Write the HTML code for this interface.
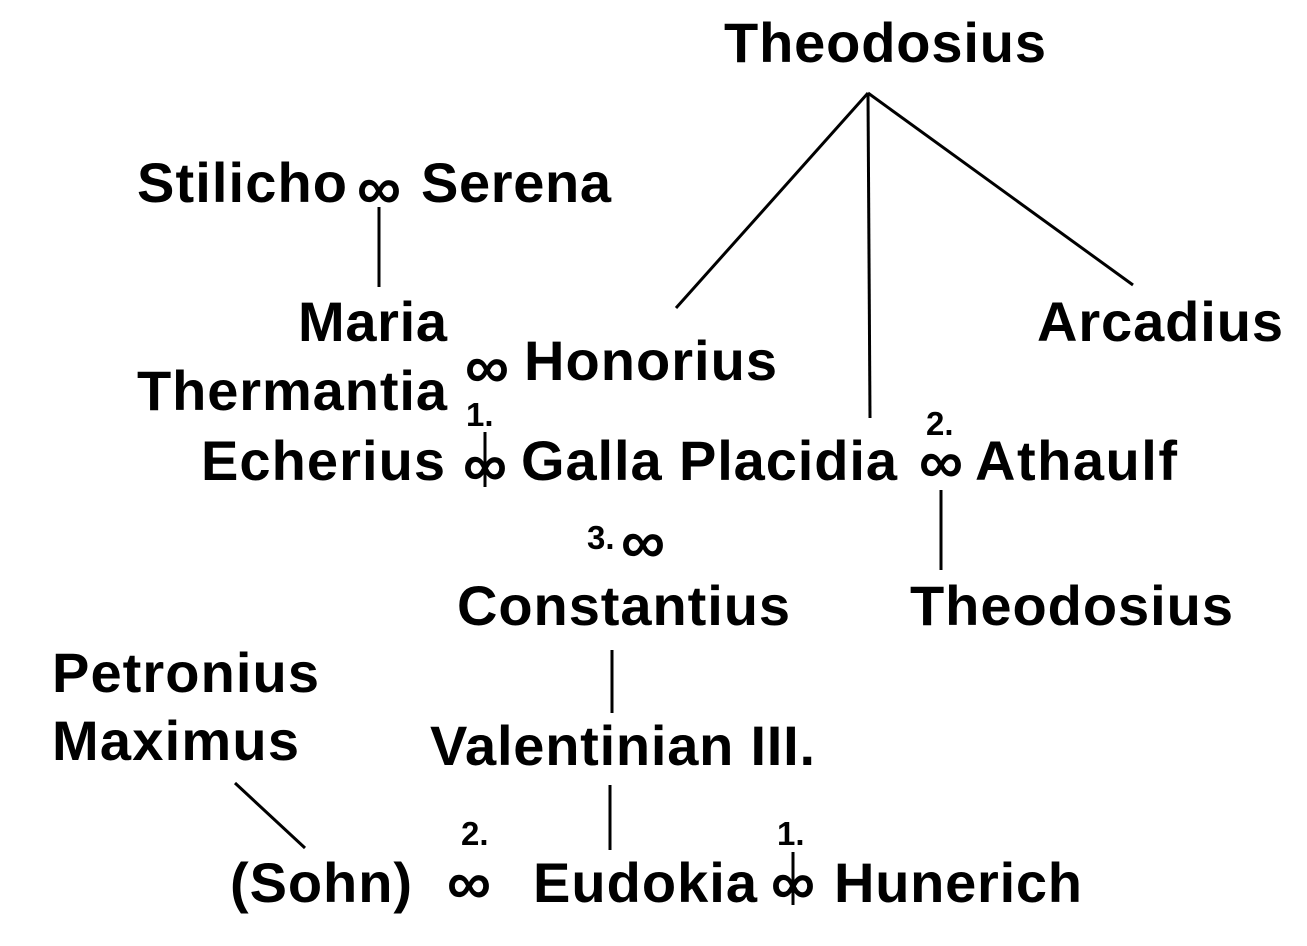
<!DOCTYPE html>
<html><head><meta charset="utf-8"><style>
html,body{margin:0;padding:0;background:#fff;}
svg{display:block;}
text{font-family:"Liberation Sans",Arial,sans-serif;font-weight:bold;fill:#000;}
.b{font-size:56px;}
.s{font-size:33px;}
.i{font-size:62px;}
</style></head><body>
<svg width="1307" height="946" viewBox="0 0 1307 946" xmlns="http://www.w3.org/2000/svg">
<g stroke="#000" stroke-width="3" fill="none">
<line x1="868" y1="93" x2="676" y2="308"/>
<line x1="868" y1="93" x2="870" y2="418"/>
<line x1="868" y1="93" x2="1133" y2="285"/>
<line x1="379" y1="207" x2="379" y2="287"/>
<line x1="941" y1="490" x2="941" y2="570"/>
<line x1="612" y1="650" x2="612" y2="713"/>
<line x1="610" y1="785" x2="610" y2="850"/>
<line x1="235" y1="783" x2="305" y2="848"/>
<line x1="485" y1="432" x2="485" y2="487"/>
<line x1="793" y1="852" x2="793" y2="905"/>
</g>
<text class="b" x="724" y="62" textLength="322">Theodosius</text>
<text class="b" x="137" y="202" textLength="210">Stilicho</text>
<text class="i" x="379" y="209" text-anchor="middle">∞</text>
<text class="b" x="421" y="202" textLength="190">Serena</text>
<text class="b" x="298" y="341" textLength="149">Maria</text>
<text class="b" x="1037" y="341" textLength="246">Arcadius</text>
<text class="b" x="137" y="410" textLength="310">Thermantia</text>
<text class="i" x="487" y="388" text-anchor="middle">∞</text>
<text class="b" x="524" y="380" textLength="253">Honorius</text>
<text class="s" x="466" y="426">1.</text>
<text class="b" x="201" y="480" textLength="244">Echerius</text>
<text class="i" x="485" y="486" text-anchor="middle">∞</text>
<text class="b" x="521" y="480" textLength="376">Galla Placidia</text>
<text class="s" x="926" y="435">2.</text>
<text class="i" x="941" y="483" text-anchor="middle">∞</text>
<text class="s" x="587" y="549">3.</text>
<text class="b" x="975" y="480" textLength="202">Athaulf</text>
<text class="i" x="643" y="563" text-anchor="middle">∞</text>
<text class="b" x="457" y="625" textLength="333">Constantius</text>
<text class="b" x="910" y="625" textLength="323">Theodosius</text>
<text class="b" x="52" y="692" textLength="267">Petronius</text>
<text class="b" x="52" y="760" textLength="247">Maximus</text>
<text class="b" x="430" y="765" textLength="385">Valentinian III.</text>
<text class="s" x="461" y="845">2.</text>
<text class="i" x="469" y="904" text-anchor="middle">∞</text>
<text class="s" x="777" y="845">1.</text>
<text class="b" x="230" y="902" textLength="182">(Sohn)</text>
<text class="b" x="533" y="902" textLength="224">Eudokia</text>
<text class="i" x="793" y="904" text-anchor="middle">∞</text>
<text class="b" x="834" y="902" textLength="248">Hunerich</text>
</svg>
</body></html>
